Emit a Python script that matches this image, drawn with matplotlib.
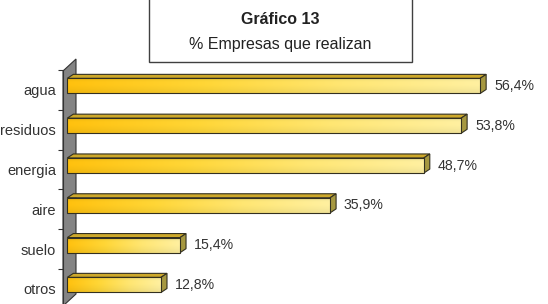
import numpy as np
import matplotlib
matplotlib.use("Agg")
import matplotlib.pyplot as plt
from matplotlib.patches import Polygon, Rectangle
from matplotlib.colors import LinearSegmentedColormap

plt.rcParams['font.family'] = ['Liberation Sans', 'DejaVu Sans']

# datos (de abajo hacia arriba)
categorias = ['otros', 'suelo', 'aire', 'energia', 'residuos', 'agua']
valores = [12.8, 15.4, 35.9, 48.7, 53.8, 56.4]
titulo = 'Gráfico 13'
subtitulo = '% Empresas que realizan'

W, H = 548, 304
fig = plt.figure(figsize=(W / 100, H / 100), dpi=100)

# ejes: x en %, y por categoria
x_min, x_max = -0.587, 60
y_top_px, y_bot_px = 70, 308.8
ax = fig.add_axes([63 / W, (H - y_bot_px) / H, (506.5 - 63) / W, (y_bot_px - y_top_px) / H])
ax.set_xlim(x_min, x_max)
ax.set_ylim(-0.5, len(categorias) - 0.5)

px_x = (506.5 - 63) / (x_max - x_min)          # px por %
px_y = (y_bot_px - y_top_px) / len(categorias)  # px por categoria
dx = 6 / px_x   # profundidad 3D
dy = 4 / px_y
y_lo, y_hi = -0.09, 0.29

# pared gris
wx0, wx1 = x_min, x_min + 13 / px_x
pared = Polygon([(wx0, 5.5 - 1 / px_y), (wx1, 5.5 + 11 / px_y),
                 (wx1, -0.5 + (308.8 - 294) / px_y), (wx0, -0.5 - (306 - 308.8) / px_y)],
                closed=True, facecolor='#848484', edgecolor='#333333', lw=0.8,
                clip_on=False, zorder=1)
ax.add_patch(pared)

# degradado horizontal de la cara frontal, algo mas oscuro abajo
cmap = LinearSegmentedColormap.from_list('oro', ['#FFC10E', '#FFD636', '#FFE672', '#FFF0A0'])
grad = np.linspace(0, 1, 256)
shade = np.array([0.95, 1.0, 1.0, 0.98, 0.95])
img = cmap(np.tile(grad, (5, 1)))
img[..., :3] *= shade[:, None, None]
img = np.clip(img, 0, 1)

for i, v in enumerate(valores):
    b, t = i + y_lo, i + y_hi
    # cara superior
    sup = Polygon([(0, t), (v, t), (v + dx, t + dy), (dx, t + dy)], closed=True,
                  facecolor='#CDA82A', edgecolor='#333020', lw=0.8, zorder=3, clip_on=False)
    ax.add_patch(sup)
    # cara lateral
    lat = Polygon([(v, b), (v + dx, b + dy), (v + dx, t + dy), (v, t)], closed=True,
                  facecolor='#A69840', edgecolor='#333020', lw=0.8, zorder=3)
    ax.add_patch(lat)
    # cara frontal con degradado
    frente = Polygon([(0, b), (v, b), (v, t), (0, t)], closed=True,
                     facecolor='none', edgecolor='#333020', lw=0.8, zorder=5)
    ax.add_patch(frente)
    im = ax.imshow(img, extent=[0, v, b, t], aspect='auto', origin='upper',
                   interpolation='bilinear', zorder=4)
    im.set_clip_path(frente)
    ax.annotate(f"{v:.1f}".replace('.', ',') + '%', xy=(v, i + (y_lo + y_hi) / 2),
                xytext=(10, 0), textcoords='offset points', ha='left', va='center',
                fontsize=10.2, color='#333333')

ax.set_xlim(x_min, x_max)
ax.set_ylim(-0.5, len(categorias) - 0.5)

for s in ['top', 'right', 'bottom']:
    ax.spines[s].set_visible(False)
ax.spines['left'].set_color('#333333')
ax.spines['left'].set_linewidth(0.8)
ax.spines['left'].set_zorder(2)
ax.set_xticks([])
ax.set_yticks(range(len(categorias)))
ax.set_yticklabels(categorias, fontsize=10.5, color='#333333')
ax.set_yticks(np.arange(-0.5, len(categorias), 1), minor=True)
ax.tick_params(axis='y', which='major', length=0, pad=5)
ax.tick_params(axis='y', which='minor', length=3.6, width=0.8, color='#333333')
ax.patch.set_visible(False)

# caja del titulo
fig.patches.append(Rectangle((149 / W, (H - 62) / H), (412 - 149) / W, 64 / H,
                             transform=fig.transFigure, facecolor='white',
                             edgecolor='#404040', lw=1))
fig.text(280.5 / W, (H - 20) / H, titulo, ha='center', va='center',
         fontsize=11.5, fontweight='bold', color='#222222')
fig.text(280.5 / W, (H - 45) / H, subtitulo, ha='center', va='center',
         fontsize=11.5, color='#222222')

fig.savefig('out.png', dpi=100)
